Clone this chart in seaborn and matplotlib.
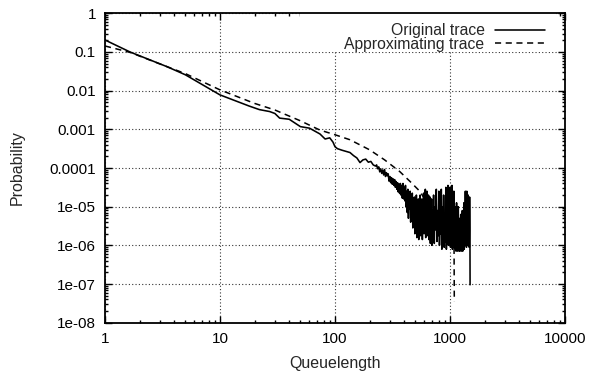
import matplotlib
matplotlib.use("Agg")
import matplotlib.pyplot as plt
import seaborn as sns
from matplotlib.patches import Rectangle
from matplotlib.ticker import FixedLocator, FixedFormatter, LogLocator, NullFormatter

# ---------------- data ----------------
# Original trace: queue lengths and log10(probability)
orig_x = [1, 1.65, 3.46, 5, 10, 13, 18, 22, 27, 30, 33, 40, 46, 50, 60, 74, 82, 90, 96, 100,
          105, 115, 125, 135, 145, 155, 165, 175, 185, 195, 205, 215, 225,
          230, 235, 240, 245, 250, 255, 260, 265, 270, 275, 280, 285, 290, 295, 300, 305, 310,
          315, 320, 325, 330, 335, 340, 345, 350, 355, 360, 365, 370, 375, 380, 385, 390, 395, 400,
          405, 410, 415, 420, 425, 430, 435, 440, 445, 450, 455, 460, 465, 470, 475, 480, 485, 490,
          495, 500, 505, 510, 515, 520, 525, 530, 535, 540, 545, 550, 555, 560, 565, 570, 575, 580,
          585, 590, 595, 600, 605, 610, 615, 620, 625, 630, 635, 640, 645, 650, 655, 660, 665, 670,
          675, 680, 685, 690, 695, 700,
          710, 720, 730, 740, 750, 760, 770, 780, 790, 800, 810, 820, 830, 840, 850, 860, 870, 880,
          890, 900, 910, 920, 930, 940, 950, 960, 970, 980, 990, 1000, 1010, 1020, 1030, 1040, 1050,
          1060, 1070, 1080, 1090, 1100, 1110, 1120, 1130, 1140, 1150, 1160, 1170, 1180, 1190, 1200,
          1210, 1220, 1230, 1240, 1250, 1260, 1270, 1280, 1290, 1300, 1310, 1320, 1330, 1340, 1350,
          1360, 1370, 1380, 1390, 1400, 1410, 1420, 1430, 1440, 1450, 1460, 1470, 1480, 1490, 1495]
orig_exp = [-0.69, -1.00, -1.38, -1.59, -2.11, -2.24, -2.40, -2.49, -2.54, -2.59, -2.71, -2.74,
            -2.86, -2.93, -2.97, -3.12, -3.25, -3.22, -3.33, -3.45,
            -3.50, -3.54, -3.57, -3.60, -3.68, -3.74, -3.86, -3.79, -3.77, -3.85, -3.83, -3.92, -3.95,
            -3.92, -4.02, -3.97, -4.10, -4.02, -4.14, -4.05, -4.18, -4.04, -4.22, -4.12, -4.20, -4.15,
            -4.34, -4.22, -4.38, -4.25, -4.42, -4.28, -4.45, -4.30, -4.50, -4.35, -4.55, -4.38, -4.62,
            -4.42, -4.66, -4.40, -4.70, -4.45, -4.78, -4.40, -4.80, -4.50,
            -4.85, -4.45, -5.00, -4.60, -5.15, -4.55, -5.30, -4.70, -5.05, -4.60, -5.40, -4.80, -5.20,
            -4.65, -5.55, -4.90, -5.35, -4.75, -5.70, -5.00, -5.45, -4.70, -5.80, -5.10, -5.55, -4.80,
            -5.85, -5.20, -5.60, -4.70, -5.75, -5.05, -5.50, -4.80, -5.85, -5.15, -5.60, -4.65, -5.70,
            -5.00, -5.45, -4.55, -5.80, -5.10, -5.50, -4.60, -5.75, -4.90, -5.40, -4.70, -5.85, -5.05,
            -5.60, -4.75, -5.95, -5.20, -5.65, -4.80, -6.00, -5.10,
            -5.70, -4.70, -5.95, -5.00, -5.60, -4.55, -5.90, -5.10, -5.75, -4.60, -6.00, -5.20, -5.70,
            -4.55, -6.10, -5.00, -5.80, -4.70, -6.05, -5.30, -5.90, -4.50, -6.10, -5.10, -5.70, -4.45,
            -6.00, -5.00, -5.85, -4.50, -6.05, -4.90, -5.75, -4.45, -6.10, -5.20, -5.90, -4.60, -6.00,
            -5.00, -6.10, -5.40, -6.15, -4.90, -6.05, -5.50, -6.15, -5.00, -6.10, -5.30, -6.15, -5.60,
            -6.10, -5.20, -6.15, -5.50, -6.10, -5.10, -6.15, -5.60, -6.05, -4.90, -6.10, -5.30, -6.00,
            -4.60, -5.95, -4.80, -6.05, -4.60, -5.80, -4.90, -6.00, -4.70, -5.85, -4.80, -6.05, -4.75,
            -5.60, -7.02]
orig_prob = [10 ** e for e in orig_exp]

# Approximating trace
approx_x = [1, 1.65, 3.46, 5, 10, 20, 30, 50, 74, 100, 135, 200, 270, 365, 450, 550, 600, 650,
            700, 760, 800, 850, 900, 950, 1000, 1030, 1050, 1070, 1084, 1090]
approx_exp = [-0.845, -1.01, -1.38, -1.56, -1.98, -2.33, -2.50, -2.78, -3.02, -3.14, -3.27, -3.53,
              -3.79, -4.09, -4.35, -4.61, -4.80, -4.90, -5.00, -5.20, -5.15, -5.40, -5.35, -5.60,
              -5.55, -5.90, -5.70, -6.10, -5.90, -7.45]
approx_prob = [10 ** e for e in approx_exp]

x_ticks = [1, 10, 100, 1000, 10000]
x_tick_labels = ["1", "10", "100", "1000", "10000"]
y_ticks = [1, 0.1, 0.01, 0.001, 0.0001, 1e-5, 1e-6, 1e-7, 1e-8]
y_tick_labels = ["1", "0.1", "0.01", "0.001", "0.0001", "1e-05", "1e-06", "1e-07", "1e-08"]

series_labels = ["Original trace", "Approximating trace"]
x_label = "Queuelength"
y_label = "Probability"

# ---------------- style ----------------
sns.set_theme(style="ticks")
plt.rcParams["font.family"] = ["Liberation Sans", "DejaVu Sans"]
plt.rcParams["font.size"] = 11

W, H = 589, 379
fig = plt.figure(figsize=(W / 100, H / 100), dpi=100)
L, R, T, B = 105, 565, 13.3, 322.7
ax = fig.add_axes([L / W, 1 - B / H, (R - L) / W, (B - T) / H])
ax.set_xscale("log")
ax.set_yscale("log")

sns.lineplot(x=orig_x, y=orig_prob, ax=ax, color="black", linewidth=1.15,
             estimator=None, sort=False, label=series_labels[0], zorder=3)
sns.lineplot(x=approx_x, y=approx_prob, ax=ax, color="black", linewidth=1.1,
             estimator=None, sort=False, label=series_labels[1], zorder=3)
ax.lines[1].set_linestyle((0, (4, 3)))

ax.set_xlim(1, 10000)
ax.set_ylim(1e-8, 1)

ax.xaxis.set_major_locator(FixedLocator(x_ticks))
ax.xaxis.set_major_formatter(FixedFormatter(x_tick_labels))
ax.yaxis.set_major_locator(FixedLocator(y_ticks))
ax.yaxis.set_major_formatter(FixedFormatter(y_tick_labels))
ax.xaxis.set_minor_locator(LogLocator(base=10, subs=range(2, 10), numticks=50))
ax.yaxis.set_minor_locator(LogLocator(base=10, subs=range(2, 10), numticks=50))
ax.xaxis.set_minor_formatter(NullFormatter())
ax.yaxis.set_minor_formatter(NullFormatter())

ax.tick_params(which="both", direction="in", top=True, right=True, colors="black",
               width=1.0, labelsize=11)
ax.tick_params(which="major", length=5, pad=6.5)
ax.tick_params(which="minor", length=2.5)
for s in ax.spines.values():
    s.set_linewidth(1.3)
    s.set_color("black")

ax.grid(True, which="major", linestyle=(0, (1, 2)), color="#333333", linewidth=0.8, zorder=0)
ax.set_axisbelow(True)

# white key box as in the reference (hides grid behind legend)
x0 = (300 - L) / (R - L)
x1 = (556 - L) / (R - L)
y0 = 1 - (52 - T) / (B - T)
ax.add_patch(Rectangle((x0, y0), x1 - x0, 1 - y0, transform=ax.transAxes,
                       facecolor="white", edgecolor="none", zorder=1.5))

leg = ax.legend(loc="upper right", bbox_to_anchor=((545 - L) / (R - L), 1 - (23 - T) / (B - T)),
                frameon=False, markerfirst=False, fontsize=11.3, handlelength=3.2,
                handletextpad=0.65, borderpad=0, labelspacing=-0.08, borderaxespad=0)
leg.set_zorder(5)

ax.set_xlabel(x_label, fontsize=11.5)
ax.set_ylabel(y_label, fontsize=11.5)
ax.xaxis.set_label_coords(0.5, (B - 356) / (B - T))
ax.yaxis.set_label_coords((25 - L) / (R - L), 0.5)

fig.savefig("out.png", dpi=100)
